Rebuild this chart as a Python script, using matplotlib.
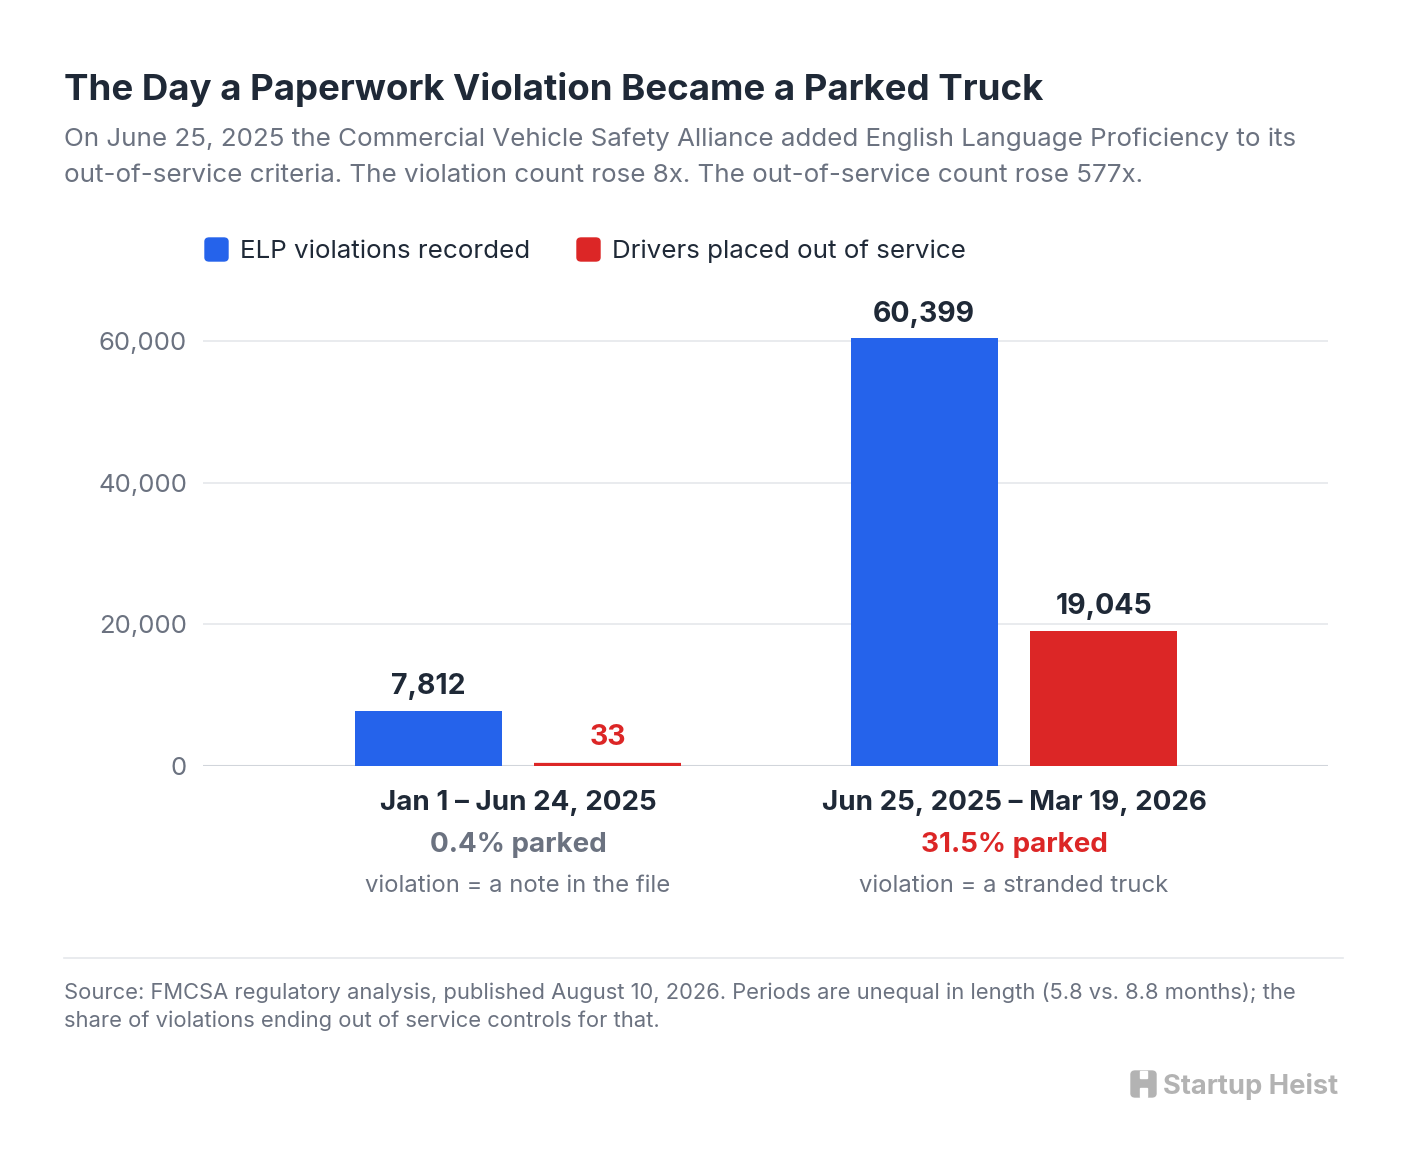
import matplotlib
matplotlib.use('Agg')
import matplotlib.pyplot as plt
import matplotlib.transforms as mtransforms
from matplotlib.patches import FancyBboxPatch, Rectangle
import numpy as np

plt.rcParams['font.family'] = ['Inter', 'DejaVu Sans']

periods = ['Jan 1 – Jun 24, 2025', 'Jun 25, 2025 – Mar 19, 2026']
parked_share = ['0.4% parked', '31.5% parked']
period_notes = ['violation = a note in the file', 'violation = a stranded truck']
violations = [7812, 60399]
out_of_service = [33, 19045]
series_names = ['ELP violations recorded', 'Drivers placed out of service']
y_ticks = [0, 20000, 40000, 60000]

BLUE = '#2563eb'
RED = '#dc2626'
DARK = '#1f2937'
GRAY = '#6b7280'
W, H = 1408, 1170


def fx(px):
    return px / W


def fy(py):
    # text centres sit ~2.5px high with va='center', nudge them down
    return 1 - py / H


def ty(py):
    return 1 - (py + 2.5) / H


fig = plt.figure(figsize=(W / 100, H / 100), dpi=100)
fig.patch.set_facecolor('white')

# axes: y=0 at 766px, 60k at 341px
top_px = 766 - 425 / 60000 * 65000
ax = fig.add_axes([fx(203), fy(766), fx(1328 - 203), (766 - top_px) / H])
ax.set_xlim(-0.635, 1.633)
ax.set_ylim(0, 65000)

x = np.arange(len(periods))
off = 0.181
bw = 0.296
ax.bar(x - off, violations, bw, color=BLUE, zorder=3)
# tiny bars get an outline so they stay visible
ax.bar(x + off, out_of_service, bw, color=RED, zorder=3, edgecolor=RED,
       linewidth=[4.5 if v < 500 else 0 for v in out_of_service],
       joinstyle='round')

for i in range(len(periods)):
    ax.annotate(f'{violations[i]:,}', (x[i] - off, violations[i]),
                xytext=(0, 12), textcoords='offset points', ha='center',
                va='baseline', fontsize=20.5, fontweight='bold', color=DARK)
    small = out_of_service[i] < 1000
    ax.annotate(f'{out_of_service[i]:,}', (x[i] + off, out_of_service[i]),
                xytext=(0, 15 if small else 12), textcoords='offset points',
                ha='center', va='baseline', fontsize=20.5, fontweight='bold',
                color=RED if small else DARK)

ax.set_yticks(y_ticks)
ax.set_yticklabels([f'{t:,}' for t in y_ticks])
ax.tick_params(axis='y', length=0, pad=11.5, labelsize=18.5, labelcolor=GRAY)
ax.tick_params(axis='x', length=0, labelbottom=False)
ax.grid(axis='y', color='#e5e7eb', linewidth=1.2, zorder=0)
ax.axhline(0, color='#d1d5db', linewidth=1.5, zorder=2)
for s in ax.spines.values():
    s.set_visible(False)

# category labels under the bars
tr = mtransforms.blended_transform_factory(ax.transData, fig.transFigure)
share_cols = [GRAY, RED]
for i in range(len(periods)):
    ax.text(x[i], ty(800), periods[i], transform=tr, ha='center', va='center',
            fontsize=20, fontweight='bold', color=DARK)
    ax.text(x[i], ty(842), parked_share[i], transform=tr, ha='center', va='center',
            fontsize=20, fontweight='bold', color=share_cols[i])
    ax.text(x[i], ty(884), period_notes[i], transform=tr, ha='center', va='center',
            fontsize=17.2, color=GRAY)

# title block
fig.text(fx(64), ty(87), 'The Day a Paperwork Violation Became a Parked Truck',
         fontsize=26.4, fontweight='bold', color=DARK, va='center')
fig.text(fx(64), ty(137), 'On June 25, 2025 the Commercial Vehicle Safety Alliance added English Language Proficiency to its',
         fontsize=18.7, color=GRAY, va='center')
fig.text(fx(64), ty(173), 'out-of-service criteria. The violation count rose 8x. The out-of-service count rose 577x.',
         fontsize=18.7, color=GRAY, va='center')

# legend
for sx, tx, col, name in [(205, 240, BLUE, series_names[0]), (577, 612, RED, series_names[1])]:
    fig.patches.append(FancyBboxPatch((fx(sx), fy(261)), fx(23), 23 / H,
                                      boxstyle='round,pad=0,rounding_size=0.003',
                                      transform=fig.transFigure, color=col))
    fig.text(fx(tx), ty(249), name, fontsize=18.7, color=DARK, va='center')

# footer
fig.add_artist(plt.Line2D([fx(64), fx(1343)], [fy(958), fy(958)],
                          transform=fig.transFigure, color='#e5e7eb', linewidth=1.2))
fig.text(fx(64), ty(990), 'Source: FMCSA regulatory analysis, published August 10, 2026. Periods are unequal in length (5.8 vs. 8.8 months); the',
         fontsize=15.8, color=GRAY, va='center')
fig.text(fx(64), ty(1018), 'share of violations ending out of service controls for that.',
         fontsize=15.8, color=GRAY, va='center')

# logo
LOGO = '#b3b3b3'
fig.patches.append(FancyBboxPatch((fx(1131), fy(1097)), fx(25), 26 / H,
                                  boxstyle='round,pad=0,rounding_size=0.003',
                                  transform=fig.transFigure, color=LOGO))
fig.patches.append(Rectangle((fx(1140), fy(1078)), fx(7), 7 / H,
                             transform=fig.transFigure, color='white'))
fig.patches.append(Rectangle((fx(1140), fy(1097)), fx(7), 9 / H,
                             transform=fig.transFigure, color='white'))
fig.text(fx(1163), ty(1084), 'Startup Heist', fontsize=19.7, fontweight='bold',
         color=LOGO, va='center')

fig.savefig('out.png', dpi=100, facecolor='white')
